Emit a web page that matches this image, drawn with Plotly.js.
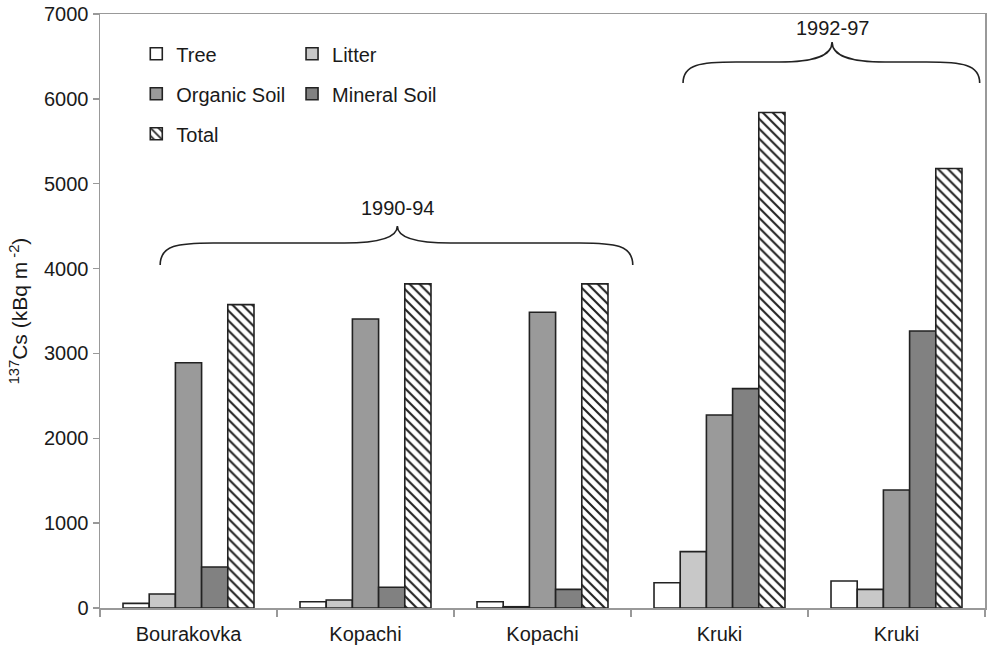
<!DOCTYPE html>
<html>
<head>
<meta charset="utf-8">
<script src="https://cdn.plot.ly/plotly-3.0.1.min.js"></script>
<style>html,body{margin:0;padding:0;background:#fff;}#chart{width:987px;height:651px;}</style>
</head>
<body>
<div id="chart"></div>
<script>
// Data
const sites = ["Bourakovka", "Kopachi", "Kopachi", "Kruki", "Kruki"];
const tree = [55, 74, 74, 298, 318];
const litter = [165, 94, 15, 664, 220];
const organicSoil = [2890, 3405, 3485, 2275, 1390];
const mineralSoil = [483, 244, 220, 2585, 3265];
const total = [3575, 3820, 3820, 5840, 5180];
const periods = ["1990-94", "1992-97"];

const xIdx = sites.map((_, i) => i);
const font = "Liberation Sans, Arial, sans-serif";
const line = {color: "#222", width: 1.6};

const traces = [
  {name: "Tree", y: tree, marker: {color: "#ffffff", line: line}, legend: "legend", legendgroup: "a"},
  {name: "Litter", y: litter, marker: {color: "#c8c8c8", line: line}, legend: "legend2", legendgroup: "b"},
  {name: "Organic Soil", y: organicSoil, marker: {color: "#9a9a9a", line: line}, legend: "legend", legendgroup: "c"},
  {name: "Mineral Soil", y: mineralSoil, marker: {color: "#818181", line: line}, legend: "legend2", legendgroup: "d"},
  {name: "Total", y: total, marker: {color: "#ffffff", line: line,
    pattern: {shape: "\\", fgcolor: "#222", bgcolor: "#ffffff", size: 7, solidity: 0.3}},
    legend: "legend", legendgroup: "e"}
].map(t => Object.assign({type: "bar", x: xIdx, hoverinfo: "y+name"}, t));

function brace(x0, x1, xm, yEnd, yLine, yPeak) {
  const r = (yEnd - yLine);
  return {
    type: "path", xref: "x", yref: "y",
    path: `M ${x0},${yEnd} C ${x0},${yLine + r*0.1} ${x0+0.1},${yLine} ${x0+0.3},${yLine} ` +
          `L ${xm-0.3},${yLine} C ${xm-0.1},${yLine} ${xm},${yLine+ (yPeak-yLine)*0.3} ${xm},${yPeak} ` +
          `C ${xm},${yLine+ (yPeak-yLine)*0.3} ${xm+0.1},${yLine} ${xm+0.3},${yLine} ` +
          `L ${x1-0.3},${yLine} C ${x1-0.1},${yLine} ${x1},${yLine + r*0.1} ${x1},${yEnd}`,
    line: {color: "#222", width: 1.6}
  };
}

const layout = {
  width: 987, height: 651,
  margin: {l: 100, r: 2, t: 14, b: 43},
  paper_bgcolor: "#fff", plot_bgcolor: "#fff",
  barmode: "group", bargap: 0.26, bargroupgap: 0,
  font: {family: font, size: 20, color: "#1a1a1a"},
  xaxis: {
    range: [-0.5, 4.5], tickmode: "array", tickvals: xIdx, ticktext: sites,
    ticks: "", showline: true, mirror: true, linecolor: "#999", linewidth: 1.5,
    showgrid: false, zeroline: false, fixedrange: true,
    tickfont: {size: 20}, ticklabelstandoff: 7,
    minor: {tickmode: "array", tickvals: [-0.5, 0.5, 1.5, 2.5, 3.5, 4.5], ticks: "outside", ticklen: 7, tickcolor: "#999", tickwidth: 1.5, showgrid: false}
  },
  yaxis: {
    range: [0, 7000], dtick: 1000, ticks: "outside", ticklen: 6, tickcolor: "#999", tickwidth: 1.5,
    showline: true, mirror: true, linecolor: "#999", linewidth: 1.5,
    showgrid: false, zeroline: false, fixedrange: true,
    tickfont: {size: 20},
    title: {text: "<sup>137</sup>Cs (kBq m<sup> -2</sup>)", font: {size: 21}, standoff: 10}
  },
  legend: {x: 0.041, y: 0.966, xanchor: "left", yanchor: "top", bgcolor: "rgba(0,0,0,0)",
    tracegroupgap: 11, font: {size: 20}, itemwidth: 30},
  legend2: {x: 0.217, y: 0.966, xanchor: "left", yanchor: "top", bgcolor: "rgba(0,0,0,0)",
    tracegroupgap: 11, font: {size: 20}, itemwidth: 30},
  shapes: [
    brace(-0.16, 2.51, 1.18, 4042, 4301, 4502),
    brace(2.794, 4.47, 3.636, 6187, 6434, 6670)
  ],
  annotations: [
    {x: 1.18, y: 4714, xref: "x", yref: "y", text: periods[0], showarrow: false, font: {size: 20}},
    {x: 3.636, y: 6835, xref: "x", yref: "y", text: periods[1], showarrow: false, font: {size: 20}}
  ],
  showlegend: true
};

Plotly.newPlot("chart", traces, layout, {displayModeBar: false, staticPlot: true});
</script>
</body>
</html>
